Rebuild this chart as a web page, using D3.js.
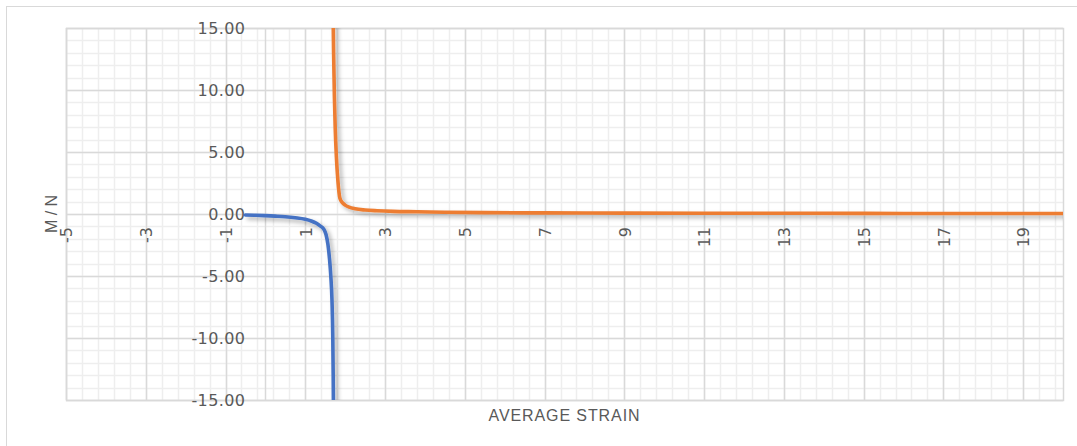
<!DOCTYPE html>
<html>
<head>
<meta charset="utf-8">
<script src="https://cdn.jsdelivr.net/npm/d3@7"></script>
<style>
  html, body { margin: 0; padding: 0; background: #ffffff; }
  svg { display: block; }
</style>
</head>
<body>
<svg id="chart" width="1077" height="446"></svg>
<script>
// Series below the asymptote (negative branch)
const lowerStrain = [-0.5, -0.25, 0, 0.25, 0.5, 0.75, 1.0, 1.15, 1.28, 1.38, 1.46, 1.52, 1.57, 1.61, 1.64, 1.67, 1.69, 1.70, 1.71];
const lowerRatio  = [-0.08, -0.10, -0.13, -0.17, -0.22, -0.30, -0.42, -0.56, -0.75, -0.98, -1.2, -1.65, -2.5, -3.7, -5.0, -7.0, -10, -13, -17];

// Series above the asymptote (positive branch)
const upperStrain = [1.69, 1.71, 1.73, 1.75, 1.78, 1.82, 1.87, 1.93, 2.0, 2.1, 2.25, 2.5, 2.8, 3.2, 3.8, 4.5, 5.5, 7, 9, 12, 15, 18, 20];
const upperRatio  = [18, 13, 9.5, 7.0, 4.6, 2.6, 1.25, 0.92, 0.72, 0.55, 0.42, 0.32, 0.26, 0.21, 0.18, 0.14, 0.11, 0.09, 0.07, 0.06, 0.05, 0.04, 0.04];

// Axis ticks and labels
const xTicks = [-5, -3, -1, 1, 3, 5, 7, 9, 11, 13, 15, 17, 19];
const yTicks = [-15, -10, -5, 0, 5, 10, 15];
const xTitle = "AVERAGE STRAIN";
const yTitle = "M / N";

const svg = d3.select("#chart");
const plot = { left: 66, right: 1063, top: 28, bottom: 400 };

const x = d3.scaleLinear().domain([-5, 20]).range([plot.left, plot.right]);
const y = d3.scaleLinear().domain([-15, 15]).range([plot.bottom, plot.top]);

// Outer chart frame
svg.append("rect")
  .attr("x", 6.5).attr("y", 6.5)
  .attr("width", 1200).attr("height", 600)
  .attr("fill", "#ffffff")
  .attr("stroke", "#d9d9d9").attr("stroke-width", 1);

const defs = svg.append("defs");
defs.append("clipPath").attr("id", "plot-clip")
  .append("rect")
  .attr("x", plot.left).attr("y", plot.top)
  .attr("width", plot.right - plot.left).attr("height", plot.bottom - plot.top);

const shadow = defs.append("filter").attr("id", "line-shadow")
  .attr("x", "-20%").attr("y", "-20%").attr("width", "140%").attr("height", "140%");
shadow.append("feDropShadow")
  .attr("dx", 3).attr("dy", 3).attr("stdDeviation", 2)
  .attr("flood-color", "#000000").attr("flood-opacity", 0.3);

// Gridlines
const minorX = d3.range(0, 63).map(i => -5 + i * 0.4).filter(v => v <= 20.001);
const minorY = d3.range(-15, 16, 1);
const majorX = xTicks;
const majorY = yTicks;

const grid = svg.append("g");
grid.selectAll("line.minor-x").data(minorX).join("line")
  .attr("x1", d => Math.round(x(d)) + 0.5).attr("x2", d => Math.round(x(d)) + 0.5)
  .attr("y1", plot.top).attr("y2", plot.bottom)
  .attr("stroke", "#eeeeee").attr("stroke-width", 1.5);
grid.selectAll("line.minor-y").data(minorY).join("line")
  .attr("y1", d => Math.round(y(d)) + 0.5).attr("y2", d => Math.round(y(d)) + 0.5)
  .attr("x1", plot.left).attr("x2", plot.right)
  .attr("stroke", "#eeeeee").attr("stroke-width", 1.5);
grid.selectAll("line.major-x").data(majorX).join("line")
  .attr("x1", d => Math.round(x(d)) + 0.5).attr("x2", d => Math.round(x(d)) + 0.5)
  .attr("y1", plot.top).attr("y2", plot.bottom)
  .attr("stroke", "#d9d9d9").attr("stroke-width", 1.5);
grid.selectAll("line.major-y").data(majorY).join("line")
  .attr("y1", d => Math.round(y(d)) + 0.5).attr("y2", d => Math.round(y(d)) + 0.5)
  .attr("x1", plot.left).attr("x2", plot.right)
  .attr("stroke", "#d9d9d9").attr("stroke-width", 1.5);
// vertical axis line at x = 0
grid.append("line")
  .attr("x1", Math.round(x(0)) + 0.5).attr("x2", Math.round(x(0)) + 0.5)
  .attr("y1", plot.top).attr("y2", plot.bottom)
  .attr("stroke", "#d9d9d9").attr("stroke-width", 1.5);
// plot area border
grid.append("rect")
  .attr("x", plot.left + 0.5).attr("y", plot.top + 0.5)
  .attr("width", plot.right - plot.left).attr("height", plot.bottom - plot.top)
  .attr("fill", "none").attr("stroke", "#d9d9d9").attr("stroke-width", 1.5);

// Axes (labels only, placed along the zero lines)
const tickFont = "'DejaVu Sans', sans-serif";
const fmtY = v => d3.format(".2f")(v).replace("\u2212", "-");
const fmtX = v => String(v);

const yAxis = svg.append("g")
  .attr("transform", `translate(${x(0)},0)`)
  .call(d3.axisLeft(y).tickValues(yTicks).tickFormat(fmtY).tickSize(0).tickPadding(20));
yAxis.select(".domain").remove();
yAxis.selectAll("text")
  .attr("font-family", tickFont).attr("font-size", 16)
  .attr("letter-spacing", "0.4px")
  .attr("fill", "#595959");

const xAxis = svg.append("g")
  .attr("transform", `translate(0,${y(0)})`)
  .call(d3.axisBottom(x).tickValues(xTicks).tickFormat(fmtX).tickSize(0));
xAxis.select(".domain").remove();
xAxis.selectAll("text")
  .attr("font-family", tickFont).attr("font-size", 16)
  .attr("fill", "#595959")
  .attr("transform", "rotate(-90)")
  .attr("x", -13).attr("y", 0).attr("dy", "0.36em")
  .attr("text-anchor", "end");

// Series
const line = d3.line().x(d => x(d[0])).y(d => y(d[1])).curve(d3.curveMonotoneX);
const series = [
  { xs: lowerStrain, ys: lowerRatio, color: "#4472C4" },
  { xs: upperStrain, ys: upperRatio, color: "#ED7D31" }
];
const lines = svg.append("g").attr("clip-path", "url(#plot-clip)");
lines.selectAll("path").data(series).join("path")
  .attr("d", s => line(s.xs.map((v, i) => [v, s.ys[i]])))
  .attr("fill", "none")
  .attr("stroke", s => s.color)
  .attr("stroke-width", 3.6)
  .attr("stroke-linecap", "round")
  .attr("stroke-linejoin", "round")
  .attr("filter", "url(#line-shadow)");

// Axis titles
svg.append("text")
  .attr("x", (plot.left + plot.right) / 2).attr("y", 421)
  .attr("text-anchor", "middle")
  .attr("font-family", "'Liberation Sans', Arial, sans-serif")
  .attr("font-size", 16).attr("letter-spacing", "0.9px")
  .attr("fill", "#595959")
  .text(xTitle);

svg.append("text")
  .attr("transform", `translate(57,${y(0)}) rotate(-90)`)
  .attr("text-anchor", "middle")
  .attr("font-family", "'Liberation Sans', Arial, sans-serif")
  .attr("font-size", 16)
  .attr("fill", "#595959")
  .text(yTitle);
</script>
</body>
</html>
